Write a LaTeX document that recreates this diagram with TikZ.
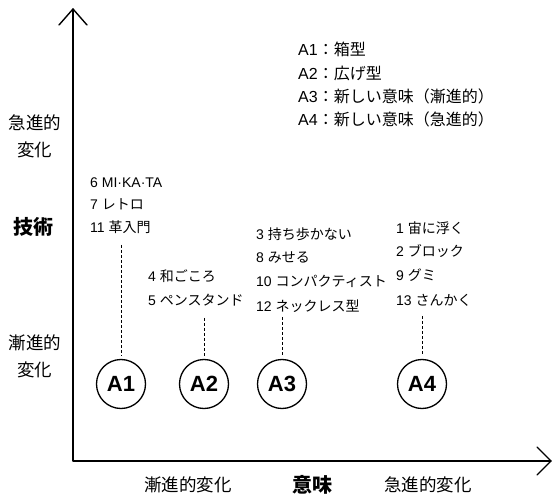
\documentclass[tikz,border=0pt]{standalone}
\usepackage{fontspec}
\setmainfont{Noto Sans CJK JP}
\newfontfamily\lat{Liberation Sans}
\begin{document}
\begin{tikzpicture}[x=1pt,y=-1pt,
  axisline/.style={line width=1.4pt,line cap=round,line join=round},
  circ/.style={circle,draw,line width=1.3pt,minimum size=49pt,inner sep=0pt,font=\fontsize{22}{22}\selectfont\lat\bfseries},
  lbl/.style={anchor=west,inner sep=0pt,font=\fontsize{14}{14}\selectfont},
  legend/.style={anchor=west,inner sep=0pt,font=\fontsize{16}{17}\selectfont},
  axlbl/.style={inner sep=0pt,font=\fontsize{17.5}{27}\selectfont,align=center},
  axbold/.style={inner sep=0pt,font=\fontsize{20}{22}\selectfont\bfseries},
  dash line/.style={line width=0.8pt,dash pattern=on 3pt off 2pt,shorten >=3pt}]
\useasboundingbox (0,0) rectangle (552,497);
% axes
\coordinate (O) at (73,461);
\coordinate (Ytop) at (73,9);
\coordinate (Xend) at (551,461);
\coordinate (yl) at (59,25);
\coordinate (yr) at (87,25);
\coordinate (xu) at (537,447);
\coordinate (xd) at (537,475);
\draw[axisline] (Ytop) -- (O) -- (Xend);
\draw[axisline] (yl) -- (Ytop) -- (yr);
\draw[axisline] (xu) -- (Xend) -- (xd);
% axis labels
\node[axlbl] (yhi) at (35,136) {急進的\\変化};
\node[axbold] (ytitle) at (33,227) {技術};
\node[axlbl] (ylo) at (35,356) {漸進的\\変化};
\node[axlbl] (xlo) at (188,485) {漸進的変化};
\node[axbold] (xtitle) at (312,485) {意味};
\node[axlbl] (xhi) at (428,485) {急進的変化};
% legend
\node[legend] (l1) at (298,49) {{\lat A1}：箱型};
\node[legend] (l2) at (298,73) {{\lat A2}：広げ型};
\node[legend] (l3) at (298,96) {{\lat A3}：新しい意味（漸進的）};
\node[legend] (l4) at (298,119) {{\lat A4}：新しい意味（急進的）};
% circles
\node[circ] (A1) at (121,384) {A1};
\node[circ] (A2) at (204,384) {A2};
\node[circ] (A3) at (282,384) {A3};
\node[circ] (A4) at (422,384) {A4};
% labels
\node[lbl] (t6) at (90,183) {{\lat 6 MI·KA·TA}};
\node[lbl] (t7) at (90,204) {{\lat 7 }レトロ};
\node[lbl] (t11) at (90,227) {{\lat 11 }革入門};
\node[lbl] (t4) at (148,276) {{\lat 4 }和ごころ};
\node[lbl] (t5) at (148,300) {{\lat 5 }ペンスタンド};
\node[lbl] (t3) at (256,234) {{\lat 3 }持ち歩かない};
\node[lbl] (t8) at (256,258) {{\lat 8 }みせる};
\node[lbl] (t10) at (256,281) {{\lat 10 }コンパクティスト};
\node[lbl] (t12) at (256,306) {{\lat 12 }ネックレス型};
\node[lbl] (t1) at (396,228) {{\lat 1 }宙に浮く};
\node[lbl] (t2) at (396,251) {{\lat 2 }ブロック};
\node[lbl] (t9) at (396,275) {{\lat 9 }グミ};
\node[lbl] (t13) at (396,300) {{\lat 13 }さんかく};
% dashed connectors
\coordinate (d1) at (121,245);
\coordinate (d2) at (204,318);
\coordinate (d3) at (282,317);
\coordinate (d4) at (422,316);
\draw[dash line] (d1) -- (A1.north);
\draw[dash line] (d2) -- (A2.north);
\draw[dash line] (d3) -- (A3.north);
\draw[dash line] (d4) -- (A4.north);
\end{tikzpicture}
\end{document}
